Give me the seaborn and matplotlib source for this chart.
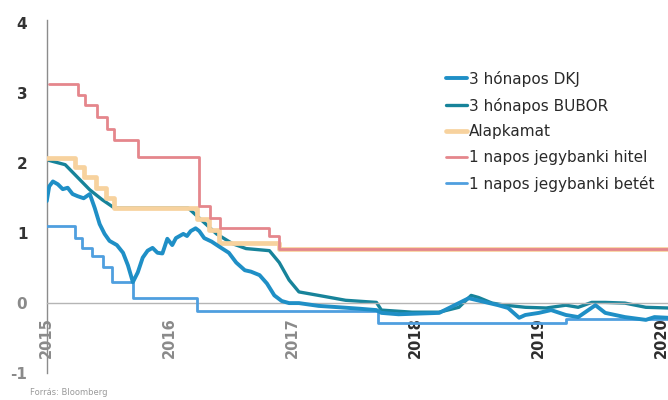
import numpy as np
import pandas as pd
import matplotlib
matplotlib.use("Agg")
import matplotlib.pyplot as plt
import seaborn as sns

# --- adatok (év törtrészként) ---
dkj_t = [2015.00, 2015.02, 2015.05, 2015.09, 2015.13, 2015.17, 2015.21, 2015.25,
         2015.30, 2015.35, 2015.39, 2015.43, 2015.47, 2015.51, 2015.57, 2015.62,
         2015.66, 2015.70, 2015.74, 2015.78, 2015.82, 2015.86, 2015.90, 2015.94,
         2015.98, 2016.02, 2016.05, 2016.08, 2016.11, 2016.14, 2016.17, 2016.21,
         2016.24, 2016.28, 2016.34, 2016.40, 2016.48, 2016.54, 2016.61, 2016.66,
         2016.73, 2016.79, 2016.85, 2016.91, 2016.97, 2017.05, 2017.21, 2017.38,
         2017.54, 2017.68, 2017.72, 2017.86, 2018.02, 2018.19, 2018.43, 2018.67,
         2018.75, 2018.84, 2018.89, 2019.00, 2019.10, 2019.22, 2019.32, 2019.46,
         2019.54, 2019.70, 2019.87, 2019.94, 2020.05]
dkj_v = [1.46, 1.67, 1.74, 1.70, 1.63, 1.65, 1.56, 1.53,
         1.50, 1.56, 1.36, 1.13, 0.99, 0.89, 0.83, 0.72,
         0.54, 0.30, 0.44, 0.65, 0.75, 0.79, 0.72, 0.71,
         0.92, 0.83, 0.93, 0.96, 0.99, 0.96, 1.03, 1.07,
         1.03, 0.93, 0.88, 0.81, 0.72, 0.58, 0.47, 0.45,
         0.40, 0.28, 0.11, 0.03, 0.00, 0.00, -0.04, -0.06,
         -0.08, -0.10, -0.14, -0.16, -0.15, -0.14, 0.07, -0.03,
         -0.07, -0.21, -0.17, -0.14, -0.10, -0.17, -0.20, -0.03,
         -0.14, -0.20, -0.24, -0.20, -0.21]

bubor_t = [2015.00, 2015.15, 2015.25, 2015.35, 2015.45, 2015.55, 2016.15, 2016.25,
           2016.38, 2016.51, 2016.62, 2016.81, 2016.89, 2016.97, 2017.05, 2017.21,
           2017.43, 2017.68, 2017.72, 2017.97, 2018.19, 2018.35, 2018.45, 2018.51,
           2018.62, 2018.73, 2018.89, 2019.06, 2019.22, 2019.32, 2019.43, 2019.54,
           2019.70, 2019.87, 2020.05]
bubor_v = [2.05, 1.98, 1.80, 1.62, 1.48, 1.36, 1.36, 1.20,
           0.99, 0.85, 0.78, 0.75, 0.58, 0.33, 0.16, 0.11,
           0.04, 0.01, -0.10, -0.13, -0.13, -0.06, 0.11, 0.08,
           0.00, -0.03, -0.06, -0.07, -0.03, -0.06, 0.01, 0.01,
           0.00, -0.06, -0.07]

# lépcsős sorok: változás időpontja és új érték
alap_t = [2015.00, 2015.23, 2015.30, 2015.40, 2015.48, 2015.55, 2016.22, 2016.32,
          2016.40, 2016.89, 2020.05]
alap_v = [2.08, 1.95, 1.80, 1.65, 1.50, 1.36, 1.20, 1.05, 0.86, 0.78, 0.78]

hitel_t = [2015.02, 2015.25, 2015.31, 2015.41, 2015.49, 2015.55, 2015.74, 2016.24,
           2016.33, 2016.41, 2016.81, 2016.89, 2020.05]
hitel_v = [3.13, 2.98, 2.83, 2.66, 2.49, 2.33, 2.09, 1.39, 1.22, 1.07, 0.96, 0.77, 0.77]

betet_t = [2015.00, 2015.23, 2015.29, 2015.37, 2015.46, 2015.53, 2015.70, 2016.22,
           2017.69, 2019.22, 2020.05]
betet_v = [1.10, 0.93, 0.79, 0.68, 0.51, 0.30, 0.07, -0.11, -0.29, -0.23, -0.23]

years = [2015, 2016, 2017, 2018, 2019, 2020]
y_ticks = [4, 3, 2, 1, 0, -1]

sns.set_style("white")
plt.rcParams["font.family"] = ["DejaVu Sans"]

fig = plt.figure(figsize=(6.68, 4.0), dpi=100)
ax = fig.add_axes([0.07, 0.0675, 0.93, 0.8825])

# BUBOR alul, hogy az alapkamat takarja, ahol egybeesnek
sns.lineplot(x=bubor_t, y=bubor_v, ax=ax, color="#17839a", lw=2.4, sort=False,
             estimator=None, label="3 hónapos BUBOR", legend=False, zorder=2)
sns.lineplot(x=alap_t, y=alap_v, ax=ax, color="#f7d29e", lw=3.4,
             drawstyle="steps-post", label="Alapkamat", legend=False, zorder=3)
sns.lineplot(x=hitel_t, y=hitel_v, ax=ax, color="#e5868c", lw=2.0,
             drawstyle="steps-post", label="1 napos jegybanki hitel", legend=False, zorder=4)
sns.lineplot(x=betet_t, y=betet_v, ax=ax, color="#4f9fdf", lw=2.0,
             drawstyle="steps-post", label="1 napos jegybanki betét", legend=False, zorder=4)
sns.lineplot(x=dkj_t, y=dkj_v, ax=ax, color="#1f8fc6", lw=2.8, sort=False,
             estimator=None, label="3 hónapos DKJ", legend=False, zorder=5)

ax.set_xlim(2015.0, 2020.05)
ax.set_ylim(-1.0, 4.05)

# tengelyek
for s in ["top", "right"]:
    ax.spines[s].set_visible(False)
ax.spines["left"].set_color("#8c8c8c")
ax.spines["left"].set_linewidth(1.0)
ax.spines["bottom"].set_position(("data", 0))
ax.spines["bottom"].set_color("#b5b5b5")
ax.spines["bottom"].set_linewidth(1.0)

ax.set_yticks(y_ticks)
ax.set_yticklabels([str(v) for v in y_ticks], fontsize=11, fontweight="bold")
ax.tick_params(axis="y", direction="inout", length=8, width=1, color="#8c8c8c", pad=10)
for lab, v in zip(ax.get_yticklabels(), y_ticks):
    lab.set_color("#333333" if v > 0 else "#8a8a8a")

ax.set_xticks(years)
ax.set_xticklabels([str(y) for y in years], rotation=90, fontsize=10.5, fontweight="bold")
ax.tick_params(axis="x", direction="out", length=4, width=1, color="#b5b5b5", pad=6)
for lab, y in zip(ax.get_xticklabels(), years):
    lab.set_color("#8a8a8a" if y < 2018 else "#2e2e2e")
ax.set_xlabel("")
ax.set_ylabel("")

# jelmagyarázat a felsorolás sorrendjében
handles, labels = ax.get_legend_handles_labels()
order = ["3 hónapos DKJ", "3 hónapos BUBOR", "Alapkamat",
         "1 napos jegybanki hitel", "1 napos jegybanki betét"]
hmap = dict(zip(labels, handles))
leg = ax.legend([hmap[o] for o in order], order, loc="upper left",
                bbox_to_anchor=(0.62, 0.895), frameon=False, fontsize=11,
                handlelength=1.4, handletextpad=0.1, labelspacing=0.7)
for t in leg.get_texts():
    t.set_color("#2a2a2a")

fig.text(0.045, 0.012, "Forrás: Bloomberg", fontsize=6, color="#9a9a9a")

fig.savefig("out.png", dpi=100)
